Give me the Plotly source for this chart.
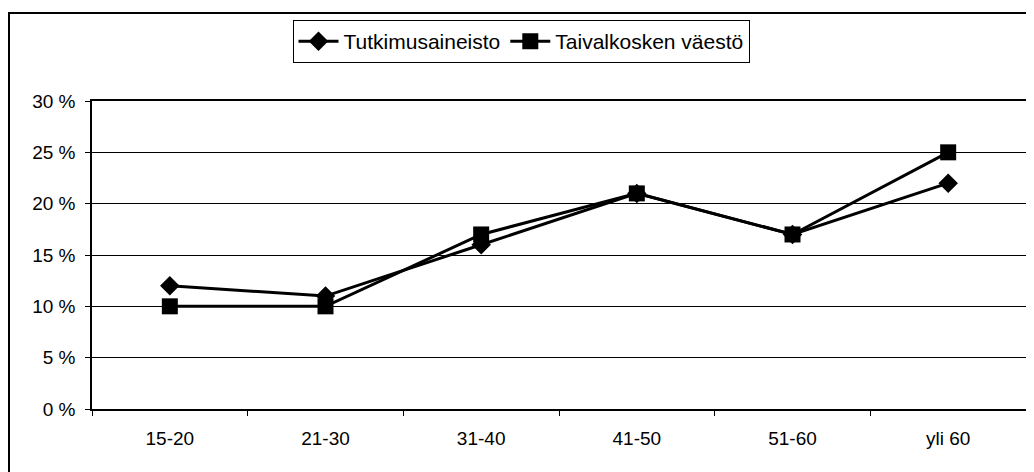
import plotly.graph_objects as go

categories = ["15-20", "21-30", "31-40", "41-50", "51-60", "yli 60"]
tutkimus = [12, 11, 16, 21, 17, 22]
taivalkoski = [10, 10, 17, 21, 17, 25]
y_ticks = [0, 5, 10, 15, 20, 25, 30]
y_labels = [f"{v} %" for v in y_ticks]

# page body has an 8px default margin, so the figure starts at (8, 8)
OFF = 8
W, H = 1034 - OFF, 472 - OFF
L, R, T, B = 92 - OFF, 1034 - 1026, 101 - OFF, 472 - 409
pw, ph = W - L - R, H - T - B

fig = go.Figure()
fig.add_trace(go.Scatter(
    x=categories, y=tutkimus, name="Tutkimusaineisto", mode="lines+markers",
    line=dict(color="black", width=3),
    marker=dict(symbol="diamond", size=15, color="black"),
))
fig.add_trace(go.Scatter(
    x=categories, y=taivalkoski, name="Taivalkosken väestö", mode="lines+markers",
    line=dict(color="black", width=3),
    marker=dict(symbol="square", size=16, color="black"),
))

# outer chart frame (right and bottom edges lie outside the image)
fig.add_shape(type="rect", xref="paper", yref="paper",
              x0=(1 - L) / pw, x1=1.2, y0=-0.6, y1=1 + (T - 5) / ph,
              line=dict(color="black", width=2), layer="below")

fig.update_layout(
    width=W, height=H,
    margin=dict(l=L, r=R, t=T, b=B, pad=0, autoexpand=False),
    paper_bgcolor="white", plot_bgcolor="white",
    font=dict(family="Liberation Sans, Arial, sans-serif", color="black", size=19),
    showlegend=True,
    legend=dict(
        orientation="h", x=(521 - OFF - L) / pw, xanchor="center",
        y=1 + (T - (20 - OFF)) / ph, yanchor="top",
        bordercolor="black", borderwidth=1, bgcolor="white",
        font=dict(size=21), itemwidth=40, tracegroupgap=0,
    ),
    xaxis=dict(
        type="category", tickson="boundaries", ticks="outside", ticklen=5,
        tickcolor="black", showline=True, linecolor="black", linewidth=1.5,
        mirror=True, showgrid=False, range=[-0.5, 5.5], automargin=False,
        tickfont=dict(size=19), ticklabelstandoff=11,
    ),
    yaxis=dict(
        range=[0, 30], tickvals=y_ticks, ticktext=y_labels,
        ticks="outside", ticklen=5, tickcolor="black",
        showline=True, linecolor="black", linewidth=1.5, mirror=True,
        showgrid=True, gridcolor="black", gridwidth=1, zeroline=False,
        automargin=False, tickfont=dict(size=19), ticklabelstandoff=6,
    ),
)

fig.write_html("out.html")
